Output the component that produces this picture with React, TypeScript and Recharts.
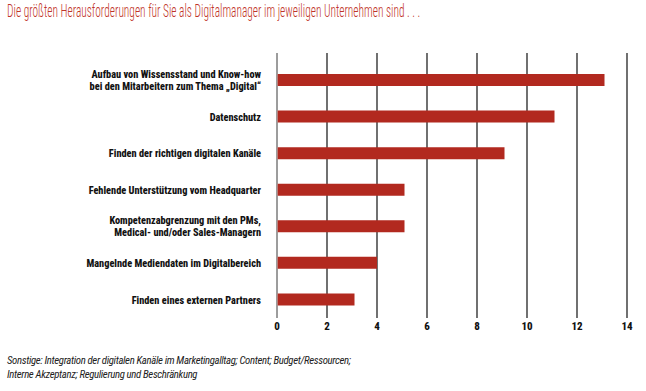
import React from "react";
import { BarChart, Bar, XAxis, YAxis, CartesianGrid } from "recharts";

const titleText = "Die größten Herausforderungen für Sie als Digitalmanager im jeweiligen Unternehmen sind . . .";
const footnoteLines = [
  "Sonstige: Integration der digitalen Kanäle im Marketingalltag; Content; Budget/Ressourcen;",
  "Interne Akzeptanz; Regulierung und Beschränkung",
];
const categories = [
  "Aufbau von Wissensstand und Know-how\nbei den Mitarbeitern zum Thema „Digital“",
  "Datenschutz",
  "Finden der richtigen digitalen Kanäle",
  "Fehlende Unterstützung vom Headquarter",
  "Kompetenzabgrenzung mit den PMs,\nMedical- und/oder Sales-Managern",
  "Mangelnde Mediendaten im Digitalbereich",
  "Finden eines externen Partners",
];
const values = [13.1, 11.1, 9.1, 5.1, 5.1, 4.0, 3.1];
const xTicks = [0, 2, 4, 6, 8, 10, 12, 14];

const data = categories.map((c, i) => ({ name: c, value: values[i] }));

const NARROW = "'Roboto Condensed', 'Open Sans Condensed', sans-serif";

const CategoryTick = (props: any) => {
  const { x, y, payload } = props;
  const lines = String(payload.value).split("\n");
  const lh = 12;
  const start = -((lines.length - 1) * lh) / 2;
  return (
    <text
      x={x}
      y={y}
      textAnchor="end"
      fontFamily={NARROW}
      fontWeight={800}
      fontSize={10.3}
      fill="#111"
    >
      {lines.map((l, i) => (
        <tspan key={i} x={x} dy={i === 0 ? start + 3.8 : lh}>
          {l}
        </tspan>
      ))}
    </text>
  );
};

export default function App() {
  return (
    <div style={{ position: "absolute", left: 0, top: 0, width: 646, height: 391, background: "#fff" }}>
      <div
        style={{
          position: "absolute",
          left: 7,
          top: 1,
          fontFamily: NARROW,
          fontWeight: 300,
          fontSize: 17.5,
          color: "#bf3429",
          whiteSpace: "nowrap",
          transform: "scaleX(0.65)",
          transformOrigin: "left top",
        }}
      >
        {titleText}
      </div>
      <BarChart
        width={646}
        height={391}
        data={data}
        layout="vertical"
        margin={{ top: 53, right: 19, bottom: 43, left: 0 }}
        barCategoryGap={0}
      >
        <CartesianGrid horizontal={false} vertical={true} stroke="#111" strokeWidth={1.2} />
        <XAxis
          type="number"
          domain={[0, 14]}
          ticks={xTicks}
          axisLine={false}
          tickLine={false}
          tickSize={0}
          tickMargin={4}
          height={30}
          tick={{ fontFamily: NARROW, fontWeight: 800, fontSize: 11, fill: "#111" }}
        />
        <YAxis
          type="category"
          dataKey="name"
          width={277}
          axisLine={{ stroke: "#bbbbbb", strokeWidth: 1.2 }}
          tickLine={false}
          tickSize={0}
          tickMargin={16}
          padding={{ top: 9, bottom: 0 }}
          interval={0}
          tick={<CategoryTick />}
        />
        <Bar dataKey="value" fill="#b2291f" barSize={12} isAnimationActive={false} />
      </BarChart>
      <div
        style={{
          position: "absolute",
          left: 7,
          top: 354,
          fontFamily: NARROW,
          fontStyle: "italic",
          fontSize: 10.8,
          lineHeight: "14px",
          letterSpacing: "-0.35px",
          color: "#222",
          whiteSpace: "nowrap",
        }}
      >
        {footnoteLines.map((l, i) => (
          <div key={i}>{l}</div>
        ))}
      </div>
    </div>
  );
}
